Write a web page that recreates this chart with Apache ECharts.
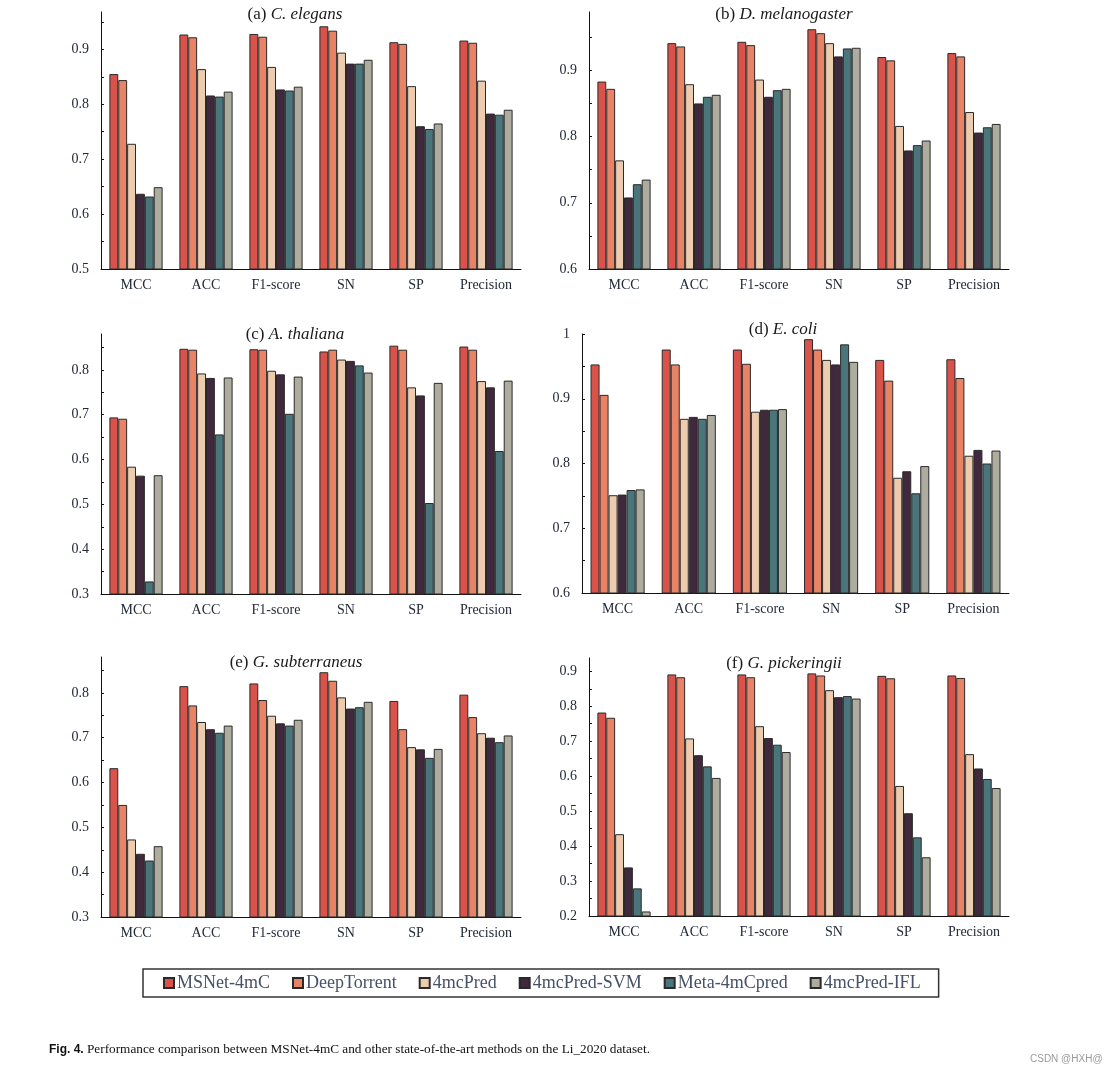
<!DOCTYPE html>
<html>
<head>
<meta charset="utf-8">
<script src="https://cdn.jsdelivr.net/npm/echarts@6/dist/echarts.min.js"></script>
<style>
html,body{margin:0;padding:0;background:#fff;}
#chart{width:1110px;height:1071px;}
</style>
</head>
<body>
<div id="chart"></div>
<script>
const categories = ['MCC', 'ACC', 'F1-score', 'SN', 'SP', 'Precision'];
const methods = ['MSNet-4mC', 'DeepTorrent', '4mcPred', '4mcPred-SVM', 'Meta-4mCpred', '4mcPred-IFL'];
const colors = ['#D9534A', '#E88366', '#EDCBAE', '#40283D', '#4A757A', '#ADAC9E'];

// rows = categories, columns = methods
const cElegans = [
  [0.855, 0.844, 0.728, 0.637, 0.632, 0.649],
  [0.927, 0.922, 0.864, 0.816, 0.814, 0.823],
  [0.928, 0.923, 0.868, 0.827, 0.825, 0.832],
  [0.942, 0.934, 0.894, 0.874, 0.874, 0.881],
  [0.913, 0.910, 0.833, 0.760, 0.755, 0.765],
  [0.916, 0.912, 0.843, 0.783, 0.781, 0.790]
];
const dMelanogaster = [
  [0.883, 0.872, 0.764, 0.708, 0.728, 0.735],
  [0.941, 0.936, 0.879, 0.850, 0.860, 0.863],
  [0.943, 0.938, 0.886, 0.860, 0.870, 0.872],
  [0.962, 0.956, 0.941, 0.921, 0.933, 0.934],
  [0.920, 0.915, 0.816, 0.779, 0.787, 0.794],
  [0.926, 0.921, 0.837, 0.806, 0.814, 0.819]
];
const aThaliana = [
  [0.694, 0.691, 0.584, 0.564, 0.328, 0.565],
  [0.847, 0.845, 0.792, 0.782, 0.656, 0.783],
  [0.846, 0.845, 0.798, 0.790, 0.702, 0.785],
  [0.841, 0.845, 0.823, 0.820, 0.810, 0.794],
  [0.854, 0.845, 0.761, 0.743, 0.503, 0.771],
  [0.852, 0.845, 0.775, 0.761, 0.619, 0.776]
];
const eColi = [
  [0.953, 0.906, 0.751, 0.752, 0.759, 0.760],
  [0.976, 0.953, 0.869, 0.872, 0.869, 0.875],
  [0.976, 0.954, 0.880, 0.883, 0.883, 0.884],
  [0.992, 0.976, 0.960, 0.953, 0.984, 0.957],
  [0.960, 0.928, 0.778, 0.788, 0.754, 0.796],
  [0.961, 0.932, 0.812, 0.821, 0.800, 0.820]
];
const gSubterraneus = [
  [0.632, 0.550, 0.473, 0.441, 0.426, 0.458],
  [0.815, 0.772, 0.735, 0.719, 0.711, 0.727],
  [0.821, 0.784, 0.749, 0.732, 0.727, 0.740],
  [0.846, 0.827, 0.790, 0.765, 0.768, 0.780],
  [0.782, 0.719, 0.679, 0.674, 0.655, 0.675],
  [0.796, 0.746, 0.710, 0.700, 0.690, 0.705]
];
const gPickeringii = [
  [0.782, 0.767, 0.434, 0.339, 0.279, 0.213],
  [0.891, 0.883, 0.708, 0.660, 0.628, 0.595],
  [0.891, 0.883, 0.743, 0.709, 0.690, 0.669],
  [0.894, 0.888, 0.846, 0.826, 0.829, 0.822],
  [0.887, 0.880, 0.572, 0.494, 0.425, 0.368],
  [0.888, 0.881, 0.663, 0.622, 0.592, 0.566]
];

// tick labels and tick marks per panel
const labelsA = [0.5, 0.6, 0.7, 0.8, 0.9];
const ticksA = [0.55, 0.6, 0.65, 0.7, 0.75, 0.8, 0.85, 0.9, 0.95];
const labelsB = [0.6, 0.7, 0.8, 0.9];
const ticksB = [0.65, 0.7, 0.75, 0.8, 0.85, 0.9, 0.95];
const labelsC = [0.3, 0.4, 0.5, 0.6, 0.7, 0.8];
const ticksC = [0.35, 0.4, 0.45, 0.5, 0.55, 0.6, 0.65, 0.7, 0.75, 0.8, 0.85];
const labelsD = [0.6, 0.7, 0.8, 0.9, 1];
const ticksD = [0.65, 0.7, 0.75, 0.8, 0.85, 0.9, 0.95, 1];
const labelsE = [0.3, 0.4, 0.5, 0.6, 0.7, 0.8];
const ticksE = [0.35, 0.4, 0.45, 0.5, 0.55, 0.6, 0.65, 0.7, 0.75, 0.8, 0.85];
const labelsF = [0.2, 0.3, 0.4, 0.5, 0.6, 0.7, 0.8, 0.9];
const ticksF = [0.25, 0.3, 0.35, 0.4, 0.45, 0.5, 0.55, 0.6, 0.65, 0.7, 0.75, 0.8, 0.85, 0.9];

const panels = [
  { data: cElegans, min: 0.5, max: 0.968, labels: labelsA, ticks: ticksA, letter: '(a) ', species: 'C. elegans',
    grid: { left: 101, top: 12, width: 420, height: 257 }, title: [295, 15] },
  { data: dMelanogaster, min: 0.6, max: 0.988, labels: labelsB, ticks: ticksB, letter: '(b) ', species: 'D. melanogaster',
    grid: { left: 589, top: 12, width: 420, height: 257 }, title: [784, 15] },
  { data: aThaliana, min: 0.3, max: 0.88, labels: labelsC, ticks: ticksC, letter: '(c) ', species: 'A. thaliana',
    grid: { left: 101, top: 334, width: 420, height: 260 }, title: [295, 335] },
  { data: eColi, min: 0.6, max: 1.0, labels: labelsD, ticks: ticksD, letter: '(d) ', species: 'E. coli',
    grid: { left: 582, top: 334, width: 427, height: 259 }, title: [783, 330] },
  { data: gSubterraneus, min: 0.3, max: 0.88, labels: labelsE, ticks: ticksE, letter: '(e) ', species: 'G. subterraneus',
    grid: { left: 101, top: 657, width: 420, height: 260 }, title: [296, 663] },
  { data: gPickeringii, min: 0.2, max: 0.938, labels: labelsF, ticks: ticksF, letter: '(f) ', species: 'G. pickeringii',
    grid: { left: 589, top: 658, width: 420, height: 258 }, title: [784, 664] }
];

const serif = '"Liberation Serif", "Times New Roman", serif';
const labelColor = '#222a38';

const grids = [], xAxes = [], yAxes = [], series = [], graphics = [];
panels.forEach((p, gi) => {
  grids.push(Object.assign({ containLabel: false }, p.grid));
  xAxes.push({
    type: 'category', gridIndex: gi, data: categories,
    axisLine: { lineStyle: { color: '#111', width: 1 } },
    axisTick: { show: false },
    axisLabel: { fontFamily: serif, fontSize: 14, color: labelColor, margin: 9 }
  });
  yAxes.push({
    type: 'value', gridIndex: gi, min: p.min, max: p.max,
    axisLine: { show: true, lineStyle: { color: '#111', width: 1 } },
    axisTick: { show: true, inside: true, length: 3, customValues: p.ticks, lineStyle: { color: '#111' } },
    axisLabel: { fontFamily: serif, fontSize: 14, color: labelColor, margin: 12, customValues: p.labels },
    splitLine: { show: false }
  });
  methods.forEach((m, mi) => {
    series.push({
      type: 'bar', name: m, xAxisIndex: gi, yAxisIndex: gi,
      data: p.data.map(row => row[mi]),
      barGap: '0%', barCategoryGap: '24%',
      itemStyle: { color: colors[mi], borderColor: '#2a2a2a', borderWidth: 1 },
      emphasis: { disabled: true },
      animation: false
    });
  });
  graphics.push({
    type: 'text', x: p.title[0], y: p.title[1],
    style: {
      text: '{n|' + p.letter + '}{i|' + p.species + '}',
      align: 'center', verticalAlign: 'middle',
      rich: {
        n: { fontFamily: serif, fontSize: 17, fill: '#1a1a1a' },
        i: { fontFamily: serif, fontSize: 17, fontStyle: 'italic', fill: '#1a1a1a' }
      }
    }
  });
});

graphics.push({
  type: 'text', x: 49, y: 1050,
  style: {
    text: '{b|Fig. 4.} {n|Performance comparison between MSNet-4mC and other state-of-the-art methods on the Li_2020 dataset.}',
    verticalAlign: 'middle',
    rich: {
      b: { fontFamily: '"Liberation Sans", Arial, sans-serif', fontWeight: 'bold', fontSize: 12, fill: '#111' },
      n: { fontFamily: serif, fontSize: 13.25, fill: '#111' }
    }
  }
});
graphics.push({
  type: 'text', x: 1030, y: 1059,
  style: { text: 'CSDN @HXH@', fontFamily: '"Liberation Sans", Arial, sans-serif', fontSize: 10, fill: '#9a9a9a', verticalAlign: 'middle' }
});

const chart = echarts.init(document.getElementById('chart'), null, { renderer: 'canvas' });
chart.setOption({
  backgroundColor: '#ffffff',
  animation: false,
  grid: grids,
  xAxis: xAxes,
  yAxis: yAxes,
  series: series,
  legend: {
    data: methods,
    left: 143, top: 969,
    padding: [5, 18, 5, 20],
    itemGap: 22,
    itemWidth: 10, itemHeight: 10,
    icon: 'rect',
    borderColor: '#333', borderWidth: 1.5,
    selectedMode: false,
    textStyle: { fontFamily: serif, fontSize: 18, color: '#465066', padding: [0, 0, 0, -2] }
  },
  graphic: graphics
});
</script>
</body>
</html>
